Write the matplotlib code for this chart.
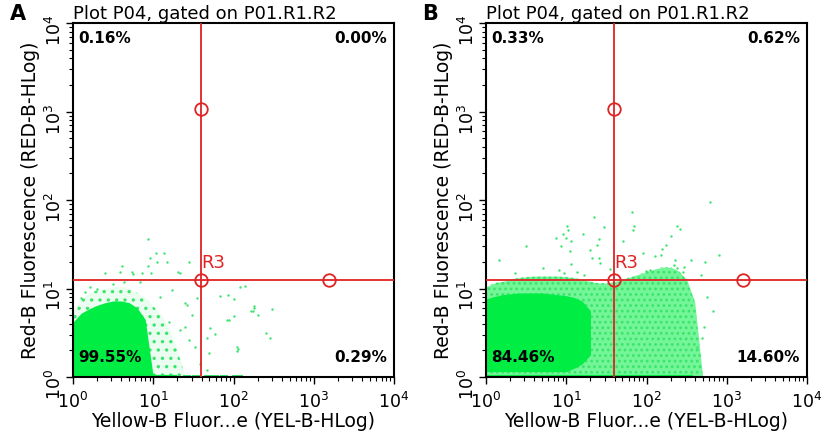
import matplotlib
matplotlib.use("Agg")
import matplotlib.pyplot as plt

# ---- data (log-scale values) ----
title = "Plot P04, gated on P01.R1.R2"
xlabel = "Yellow-B Fluor...e (YEL-B-HLog)"
ylabel = "Red-B Fluorescence (RED-B-HLog)"

# quadrant percentages: upper-left, upper-right, lower-left, lower-right
pct_A = ["0.16%", "0.00%", "99.55%", "0.29%"]
pct_B = ["0.33%", "0.62%", "84.46%", "14.60%"]

# quadrant gate R3
gate_x = 39.0
gate_y = 12.5
handle_top_A = 1070
handle_right_A = 1550
handle_top_B = 1070
handle_right_B = 1585

# column positions for the density bands
xgrid = [1.0, 1.26, 1.58, 2.0, 2.51, 3.16, 3.98, 5.01, 6.31, 7.94,
         10.0, 12.6, 15.8, 20.0, 25.1, 31.6, 39.8, 50.1, 63.1, 79.4,
         100, 126, 158, 200, 251, 316, 398, 501]

# panel A: solid core and dotted halo (band edges per column)
A_solid_top = [4.17, 5.25, 5.89, 6.46, 6.92, 7.24, 7.24, 6.92, 6.03, 4.47, 1.0]
A_solid_bot = [1.0, 1.0, 1.0, 1.0, 1.0, 1.0, 1.0, 1.0, 1.0, 1.0, 1.0]
A_halo_top = [5.62, 7.59, 8.91, 9.55, 10.0, 10.5, 10.5, 10.0, 8.91, 7.94,
              6.31, 5.01, 3.55, 2.0, 1.0]
A_floor_end = 20.0

# panel B
B_solid_top = [7.6, 8.1, 8.5, 8.7, 8.9, 8.9, 8.9, 8.9, 8.7, 8.5,
               8.3, 7.9, 7.2, 5.6]
B_solid_bot = [1.15, 1.15, 1.15, 1.15, 1.15, 1.15, 1.15, 1.15, 1.15, 1.15,
               1.15, 1.26, 1.41, 1.78]
B_halo_top = [10.5, 11.5, 12.0, 12.6, 13.2, 13.5, 13.8, 13.8, 13.8, 13.8,
              13.5, 13.2, 12.6, 12.0, 11.5, 11.5, 12.0, 12.6, 13.5, 14.5,
              15.5, 16.6, 17.4, 17.4, 15.8, 12.6, 7.1, 1.0]
B_floor_end = 380.0

# scattered single events
A_pts_x = [8.5, 10.7, 13.8, 9.1, 11.2, 14.8, 8.5, 27.5, 4.1, 2.5,
           3.9, 5.4, 5.6, 7.2, 9.5, 20.4, 21.4, 4.3, 6.8, 1.62,
           1.41, 120, 138, 182, 174, 166, 83, 59, 110, 115,
           112, 34.7, 26.3, 30.2, 21.4, 25.1, 27.5, 33.1, 46.8, 38.0,
           85, 68, 100, 178, 204, 302, 87, 100, 51, 257,
           288, 49, 46.8, 25.1, 1.26, 2.0, 3.16, 17.0, 15.5, 12.3]
A_pts_y = [36.3, 25.1, 25.1, 21.9, 20.0, 20.0, 17.8, 20.0, 17.8, 14.8,
           15.5, 15.5, 14.5, 15.1, 14.8, 15.5, 14.8, 12.0, 12.0, 10.5,
           9.1, 10.5, 10.7, 6.0, 5.6, 5.5, 4.4, 3.1, 2.19, 2.09,
           1.95, 7.8, 6.5, 5.0, 3.4, 3.7, 2.6, 2.19, 1.20, 1.41,
           8.5, 8.3, 7.6, 6.3, 5.0, 5.8, 4.4, 4.9, 3.6, 3.16,
           2.75, 1.86, 2.75, 6.9, 7.9, 10.0, 11.2, 9.5, 4.2, 8.0]
A_floor_x = [25, 28, 32, 36, 45, 50, 56, 63, 71, 80, 100, 112, 125]

B_pts_x = [617, 66, 22.4, 70.8, 67.6, 10.2, 10.5, 9.1, 10.0, 11.5,
           16.2, 29.5, 240, 263, 204, 7.4, 3.16, 8.7, 11.2, 25.7,
           24.5, 51.3, 174, 158, 91, 20.0, 20.9, 1.45, 11.5, 25.7,
           26.3, 355, 537, 794, 5.1, 129, 151, 229, 219, 240,
           295, 282, 98, 112, 2.29, 8.1, 9.3, 13.8, 16.6, 479,
           35.5, 676, 513, 490, 427, 457, 562]
B_pts_y = [95.5, 72.4, 64.6, 51.3, 45.7, 51.3, 45.7, 41.7, 37.2, 34.7,
           41.7, 49.0, 51.3, 46.8, 38.9, 37.2, 30.2, 30.2, 26.3, 36.3,
           30.9, 34.7, 30.9, 28.2, 25.1, 27.5, 22.4, 20.9, 19.1, 21.9,
           19.5, 20.9, 20.0, 24.0, 17.0, 23.4, 24.0, 20.9, 18.6, 17.0,
           17.4, 15.5, 15.8, 16.2, 14.8, 16.2, 14.8, 15.5, 14.1, 14.1,
           16.6, 5.5, 3.7, 2.75, 2.19, 1.78, 8.1]

green = "#00ee44"
dot_green = "#3ae56c"
red = "#e02222"

plt.rcParams["hatch.linewidth"] = 1.2

fig = plt.figure(figsize=(8.24, 4.32), dpi=100)
axA = fig.add_axes([0.0886, 0.1273, 0.3896, 0.8194])
axB = fig.add_axes([0.5898, 0.1273, 0.3896, 0.8194])

# (axes, letter, percentages, core, halo, halo hatch, halo tint, floor, dots)
panels = [
    (axA, "A", pct_A, A_solid_top, A_solid_bot, A_halo_top, "..", 0.08,
     A_floor_end, A_pts_x, A_pts_y, A_floor_x, handle_top_A, handle_right_A),
    (axB, "B", pct_B, B_solid_top, B_solid_bot, B_halo_top, "...", 0.55,
     B_floor_end, B_pts_x, B_pts_y, [], handle_top_B, handle_right_B),
]

for (ax, name, pct, s_top, s_bot, h_top, h_hatch, h_alpha, floor_end,
     px, py, fx, h_top_y, h_right_x) in panels:
    ax.set_xscale("log")
    ax.set_yscale("log")
    ax.set_xlim(1, 10000)
    ax.set_ylim(1, 10000)

    # density bands: dotted halo, then the solid core
    ax.fill_between(xgrid[:len(h_top)], 1.0, h_top, color=green,
                    alpha=h_alpha, linewidth=0, zorder=1)
    ax.fill_between(xgrid[:len(h_top)], 1.0, h_top, facecolor="none",
                    edgecolor=dot_green, hatch=h_hatch, linewidth=0, zorder=1)
    ax.fill_between(xgrid[:len(s_top)], s_bot, s_top, color=green,
                    linewidth=0, zorder=2)
    ax.scatter(px, py, s=3, color=dot_green, linewidths=0, zorder=2)
    # events piled on the axis floor
    ax.plot([1, floor_end], [1, 1], color=green, lw=3, zorder=2,
            solid_capstyle="butt")
    if fx:
        ax.scatter(fx, [1.0] * len(fx), s=5, marker="s", color=dot_green,
                   linewidths=0, zorder=2)

    # gate
    ax.axvline(gate_x, color=red, lw=1.3, zorder=3)
    ax.axhline(gate_y, color=red, lw=1.3, zorder=3)
    ax.plot([gate_x, gate_x, h_right_x], [gate_y, h_top_y, gate_y], "o",
            ms=9, mfc="none", mec=red, mew=1.3, zorder=4)
    ax.text(gate_x * 1.03, gate_y * 1.22, "R3", color=red, fontsize=13,
            ha="left", va="bottom", zorder=4)

    # quadrant percentages
    kw = dict(transform=ax.transAxes, fontsize=11, fontweight="bold",
              color="black", zorder=5)
    ax.text(0.016, 0.977, pct[0], ha="left", va="top", **kw)
    ax.text(0.978, 0.977, pct[1], ha="right", va="top", **kw)
    ax.text(0.016, 0.042, pct[2], ha="left", va="baseline", **kw)
    ax.text(0.978, 0.042, pct[3], ha="right", va="baseline", **kw)

    ax.set_title(title, loc="left", fontsize=13, pad=3)
    ax.set_xlabel(xlabel, fontsize=13.5, labelpad=0)
    ax.set_ylabel(ylabel, fontsize=13.5, labelpad=3)
    ax.tick_params(which="major", direction="out", length=5, width=1,
                   labelsize=12.5, pad=1)
    ax.tick_params(axis="x", which="major", pad=6)
    ax.tick_params(which="minor", direction="out", length=3, width=0.8)
    ax.tick_params(axis="y", labelrotation=90)
    for sp in ax.spines.values():
        sp.set_linewidth(1.5)

    fig.text(ax.get_position().x0 - 0.077, 0.99, name, fontsize=15,
             fontweight="bold", ha="left", va="top")

fig.savefig("out.png", dpi=100)
